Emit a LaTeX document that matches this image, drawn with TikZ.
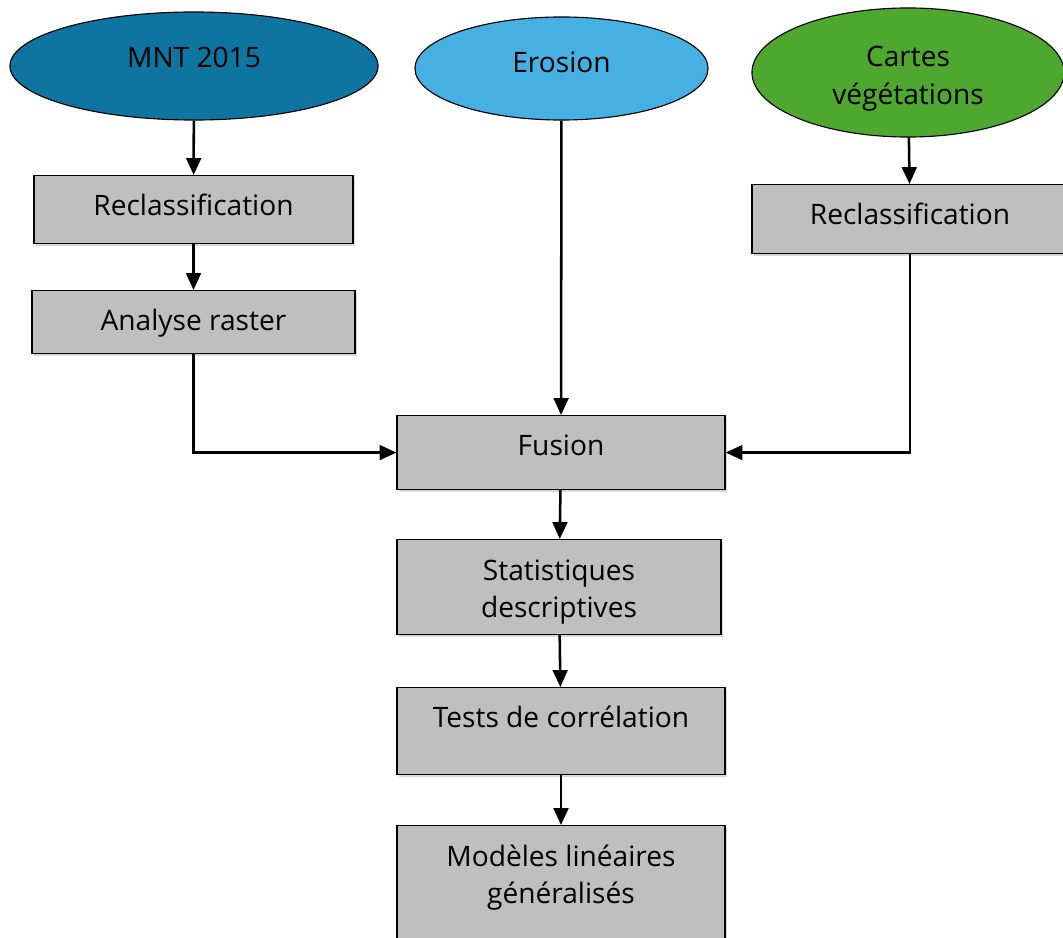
\documentclass[tikz,border=0pt]{standalone}
\usepackage{fontspec}
\setmainfont{Open Sans}
\usetikzlibrary{shapes.geometric,arrows.meta,shadows}
\definecolor{mntblue}{HTML}{0E75A0}
\definecolor{erosionblue}{HTML}{45B0E1}
\definecolor{vegegreen}{HTML}{4EA72E}
\definecolor{boxgray}{HTML}{BFBFBF}
\begin{document}
\begin{tikzpicture}[x=0.025cm, y=-0.025cm,
	txt/.style={font=\fontsize{20}{26.5}\selectfont, align=center},
	source/.style={txt, ellipse, draw, line width=0.8pt, inner sep=0pt},
	box/.style={txt, rectangle, draw, fill=boxgray, line width=0.8pt, anchor=north, inner ysep=0pt, text height=1cm, drop shadow={shadow xshift=1.5pt, shadow yshift=-1.5pt, opacity=0.3}},
	flow/.style={-{Triangle[length=12pt, width=10.5pt]}, line width=1.8pt}]

	\useasboundingbox (0,0) rectangle (1063,938);

	\node[source, fill=mntblue, minimum width=9.2cm, minimum height=2.7cm, text height=0.65cm, text depth=0.55cm] (mnt) at (194,66) {MNT 2015};
	\node[source, fill=erosionblue, minimum width=7.325cm, minimum height=2.575cm, text height=0.6cm, text depth=0.375cm] (erosion) at (561.5,68.5) {Erosion};
	\node[source, fill=vegegreen, minimum width=7.8cm, minimum height=3.225cm, text height=1.775cm, text depth=0.2cm] (cartes) at (908,72.5) {Cartes\\végétations};

	\node[box, minimum width=7.975cm, text depth=0.7cm] (recl1) at (193.5,175) {Reclassification};
	\node[box, minimum width=8.075cm, text depth=0.575cm] (raster) at (193.5,290) {Analyse raster};
	\node[box, minimum width=7.9cm, text depth=0.725cm] (recl2) at (910,184) {Reclassification};

	\node[box, minimum width=8.2cm, text depth=0.85cm] (fusion) at (561,415) {Fusion};
	\node[box, minimum width=8.1cm, text height=1.95cm, text depth=0.425cm] (stats) at (559,539) {Statistiques\\descriptives};
	\node[box, minimum width=8.2cm, text depth=1.175cm] (tests) at (561,687) {Tests de corrélation};
	\node[box, minimum width=8.2cm, text height=1.95cm, text depth=1.425cm] (glm) at (561,825) {Modèles linéaires\\généralisés};

	\foreach \a/\b in {mnt/recl1, recl1/raster, erosion/fusion, cartes/recl2, fusion/stats, stats/tests, tests/glm}
	\draw[flow] (\a) -- (\b);

	\draw[flow] (raster.south) |- (fusion.west);
	\draw[flow] (recl2.south) |- (fusion.east);
\end{tikzpicture}
\end{document}
